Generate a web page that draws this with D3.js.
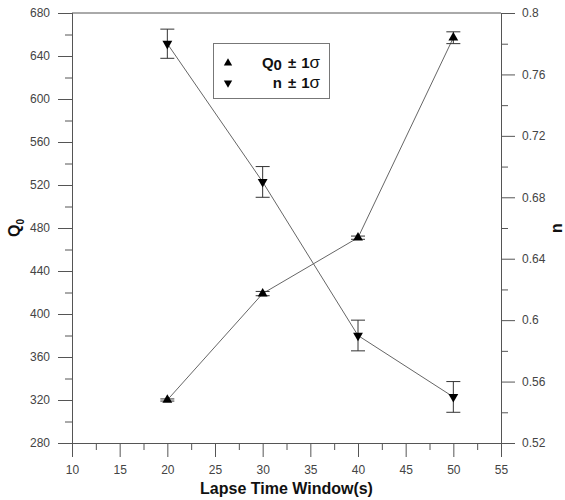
<!DOCTYPE html>
<html>
<head>
<meta charset="utf-8">
<script src="https://cdn.jsdelivr.net/npm/d3@7"></script>
<style>
  body { margin: 0; background: #fff; }
  svg { display: block; font-family: "Liberation Sans", Arial, sans-serif; }
</style>
</head>
<body>
<script>
// lapse time windows and the two fitted parameters
var windows = [20, 30, 40, 50];
var q0Values = [320, 419, 471, 657];
var q0Errors = [1, 2, 1.5, 5.5];
var nValues = [0.780, 0.690, 0.590, 0.550];
var nErrors = [0.0095, 0.010, 0.010, 0.010];

var xTicks = [10, 15, 20, 25, 30, 35, 40, 45, 50, 55];
var q0Ticks = [280, 320, 360, 400, 440, 480, 520, 560, 600, 640, 680];
var nTicks = [0.52, 0.56, 0.6, 0.64, 0.68, 0.72, 0.76, 0.8];

var width = 565, height = 500;
// note: "top" is a reserved window property, so use plotX0 etc.
var plotX0 = 72, plotX1 = 501, plotY0 = 13, plotY1 = 443;
var axisColor = "#555", labelColor = "#444";

var svg = d3.select("body").append("svg")
    .attr("width", width)
    .attr("height", height);

var x = d3.scaleLinear().domain([10, 55]).range([plotX0, plotX1]);
var yQ = d3.scaleLinear().domain([280, 680]).range([plotY1, plotY0]);
var yN = d3.scaleLinear().domain([0.52, 0.8]).range([plotY1, plotY0]);

function styleAxis(g) {
  g.select(".domain").attr("stroke", axisColor);
  g.selectAll(".tick line").attr("stroke", axisColor);
  g.selectAll(".tick text").attr("fill", labelColor).attr("font-size", 12)
    .attr("font-family", "Liberation Sans, Arial, sans-serif");
}

// minor ticks first, major ticks with labels on top
svg.append("g").attr("transform", "translate(0," + plotY1 + ")")
  .call(d3.axisBottom(x).tickValues(d3.range(12.5, 55, 5)).tickSize(7).tickFormat(""))
  .call(styleAxis);
svg.append("g").attr("transform", "translate(0," + plotY1 + ")")
  .call(d3.axisBottom(x).tickValues(xTicks).tickSize(14).tickPadding(8).tickFormat(d3.format("d")))
  .call(styleAxis);

svg.append("g").attr("transform", "translate(" + plotX0 + ",0)")
  .call(d3.axisLeft(yQ).tickValues(d3.range(300, 680, 40)).tickSize(7).tickFormat(""))
  .call(styleAxis);
svg.append("g").attr("transform", "translate(" + plotX0 + ",0)")
  .call(d3.axisLeft(yQ).tickValues(q0Ticks).tickSize(14).tickPadding(8).tickFormat(d3.format("d")))
  .call(styleAxis);

svg.append("g").attr("transform", "translate(" + plotX1 + ",0)")
  .call(d3.axisRight(yN).tickValues([0.54, 0.58, 0.62, 0.66, 0.70, 0.74, 0.78]).tickSize(7).tickFormat(""))
  .call(styleAxis);
svg.append("g").attr("transform", "translate(" + plotX1 + ",0)")
  .call(d3.axisRight(yN).tickValues(nTicks).tickSize(14).tickPadding(7).tickFormat(d3.format("")))
  .call(styleAxis);

// top frame line
svg.append("line")
  .attr("x1", plotX0).attr("x2", plotX1)
  .attr("y1", plotY0).attr("y2", plotY0)
  .attr("stroke", axisColor);

// axis titles
svg.append("text")
  .attr("x", (plotX0 + plotX1) / 2).attr("y", 494)
  .attr("text-anchor", "middle")
  .attr("font-size", 16).attr("font-weight", "bold")
  .attr("fill", "#111")
  .text("Lapse Time Window(s)");

var qTitle = svg.append("text")
  .attr("transform", "translate(20,228) rotate(-90)")
  .attr("text-anchor", "middle")
  .attr("font-size", 16).attr("font-weight", "bold")
  .attr("fill", "#111");
qTitle.append("tspan").text("Q");
qTitle.append("tspan").attr("font-size", 10).attr("dy", 4).text("0");

svg.append("text")
  .attr("transform", "translate(562,228) rotate(-90)")
  .attr("text-anchor", "middle")
  .attr("font-size", 16).attr("font-weight", "bold")
  .attr("fill", "#111")
  .text("n");

var q0Data = windows.map(function(w, i) { return {x: w, y: q0Values[i], e: q0Errors[i]}; });
var nData = windows.map(function(w, i) { return {x: w, y: nValues[i], e: nErrors[i]}; });

function drawSeries(data, yScale, symbolRotate) {
  var line = d3.line()
    .x(function(d) { return x(d.x); })
    .y(function(d) { return yScale(d.y); });

  svg.append("path")
    .datum(data)
    .attr("d", line)
    .attr("fill", "none")
    .attr("stroke", "#666")
    .attr("stroke-width", 1);

  var bars = svg.append("g").selectAll("g")
    .data(data)
    .enter()
    .append("g")
    .attr("stroke", "#333")
    .attr("stroke-width", 1);

  bars.append("line")
    .attr("x1", function(d) { return x(d.x); })
    .attr("x2", function(d) { return x(d.x); })
    .attr("y1", function(d) { return yScale(d.y - d.e); })
    .attr("y2", function(d) { return yScale(d.y + d.e); });
  bars.append("line")
    .attr("x1", function(d) { return x(d.x) - 7; })
    .attr("x2", function(d) { return x(d.x) + 7; })
    .attr("y1", function(d) { return yScale(d.y - d.e); })
    .attr("y2", function(d) { return yScale(d.y - d.e); });
  bars.append("line")
    .attr("x1", function(d) { return x(d.x) - 7; })
    .attr("x2", function(d) { return x(d.x) + 7; })
    .attr("y1", function(d) { return yScale(d.y + d.e); })
    .attr("y2", function(d) { return yScale(d.y + d.e); });

  svg.append("g").selectAll("path")
    .data(data)
    .enter()
    .append("path")
    .attr("d", d3.symbol().type(d3.symbolTriangle).size(42))
    .attr("transform", function(d) {
      return "translate(" + x(d.x) + "," + yScale(d.y) + ") rotate(" + symbolRotate + ")";
    })
    .attr("fill", "#000");
}

drawSeries(q0Data, yQ, 0);
drawSeries(nData, yN, 180);

// legend
var legend = svg.append("g");
legend.append("rect")
  .attr("x", 213.5).attr("y", 43.5)
  .attr("width", 116).attr("height", 55)
  .attr("fill", "#fff")
  .attr("stroke", "#777");

var legendItems = [
  {label: "Q", sub: "0", rotate: 0, y: 63},
  {label: "n", sub: "", rotate: 180, y: 83}
];

legendItems.forEach(function(item) {
  legend.append("path")
    .attr("d", d3.symbol().type(d3.symbolTriangle).size(30))
    .attr("transform", "translate(228," + item.y + ") rotate(" + item.rotate + ")")
    .attr("fill", "#000");
  var t = legend.append("text")
    .attr("x", 320).attr("y", item.y + 5)
    .attr("text-anchor", "end")
    .attr("font-size", 15).attr("font-weight", "bold")
    .attr("fill", "#111");
  t.append("tspan").text(item.label);
  if (item.sub) t.append("tspan").attr("font-size", 15).attr("dy", 2).text(item.sub);
  t.append("tspan").attr("dy", item.sub ? -2 : 0).attr("dx", 6).text("\u00b1");
  t.append("tspan").attr("dx", 5).text("1");
  t.append("tspan").attr("font-weight", "normal").attr("font-size", 17).text("\u03c3");
});
</script>
</body>
</html>
